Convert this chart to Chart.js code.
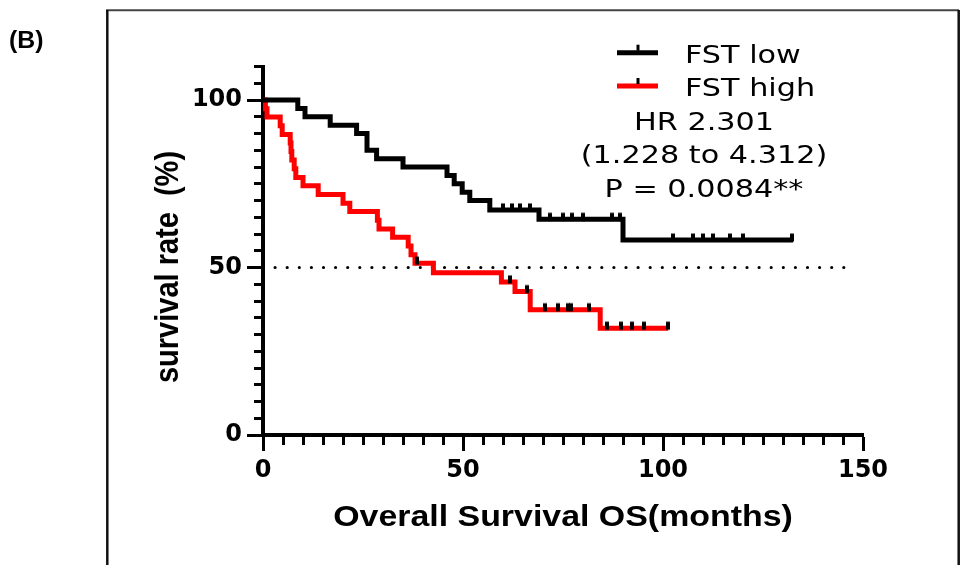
<!DOCTYPE html>
<html>
<head>
<meta charset="utf-8">
<script src="https://cdn.jsdelivr.net/npm/chart.js@4/dist/chart.umd.min.js"></script>
<style>
html,body{margin:0;padding:0;background:#fff;}
#wrap{width:961px;height:565px;position:relative;}
</style>
</head>
<body>
<div id="wrap"><canvas id="c" width="961" height="565"></canvas></div>
<script>
// ---- data (months, survival %) ----
const lowTimes  = [0, 8.7, 10.5, 16.8, 23.4, 26, 28.4, 35, 46, 47.8, 49.8, 51.7, 56.7, 69, 90, 132.5];
const lowSurv   = [100, 97.5, 95, 92.5, 90, 85, 82.5, 80, 77.5, 75, 72.5, 70, 67.2, 64.4, 58.2, 58.2];
const lowCensorTimes = [60.1, 62.2, 64.3, 66.8, 71.8, 75.1, 77.2, 80.1, 87.2, 89.2, 102.6, 107.6, 110.1, 112.6, 116.8, 120.1, 132.2];
const lowCensorSurv  = [67.2, 67.2, 67.2, 67.2, 64.4, 64.4, 64.4, 64.4, 64.4, 64.4, 58.2, 58.2, 58.2, 58.2, 58.2, 58.2, 58.2];

const highTimes = [0, 0.6, 1, 4.3, 4.8, 6.8, 7.0, 7.2, 7.8, 8.2, 10, 13.8, 20, 21.7, 28.6, 29, 32.4, 36.3, 37, 38, 42.6, 59.6, 63, 66.8, 84.3, 101.3];
const highSurv  = [100, 97.4, 94.9, 92.3, 89.7, 87.2, 84.6, 82.1, 79.5, 76.9, 74.4, 71.8, 69.2, 66.7, 64.1, 61.5, 59.0, 56.4, 53.8, 51.3, 48.4, 45.7, 42.8, 37.4, 31.9, 31.9];
const highCensorTimes = [38.4, 61.7, 66, 70.5, 73.8, 76.3, 77.0, 81.6, 85.9, 89.4, 92.3, 95.3, 101.3];
const highCensorSurv  = [51.3, 45.7, 42.8, 37.4, 37.4, 37.4, 37.4, 37.4, 31.9, 31.9, 31.9, 31.9, 31.9];

const medianX = [0, 148];
const medianY = [50, 50];

const xTickLabels = [0, 50, 100, 150];
const yTickLabels = [0, 50, 100];
const seriesNames = ['FST low', 'FST high'];
const statLines = ['HR 2.301', '(1.228 to 4.312)', 'P = 0.0084**'];
const xTitle = 'Overall Survival OS(months)';
const yTitle = 'survival rate  (%)';
const panelLabel = '(B)';

// ---- censor tick point style ----
const tickImg = document.createElement('canvas');
tickImg.width = 4; tickImg.height = 16;
(function(){ const t = tickImg.getContext('2d'); t.fillStyle = '#000'; t.fillRect(0, 1.5, 4, 8); })();

const toPts = (xs, ys) => xs.map((x, i) => ({x: x, y: ys[i]}));

function txt(ctx, s, x, y, font, align, sx) {
  ctx.save();
  ctx.translate(x, y);
  ctx.scale(sx, 1);
  ctx.font = font;
  ctx.textAlign = align;
  ctx.textBaseline = 'alphabetic';
  ctx.fillStyle = '#000';
  ctx.fillText(s, 0, 0);
  ctx.restore();
}

const decor = {
  id: 'decor',
  afterDraw(chart) {
    const ctx = chart.ctx;
    ctx.save();
    // frame
    ctx.strokeStyle = '#444'; ctx.lineWidth = 2;
    ctx.beginPath(); ctx.moveTo(106, 10.3); ctx.lineTo(959, 10.3); ctx.stroke();
    ctx.strokeStyle = '#111'; ctx.lineWidth = 2.5;
    ctx.beginPath(); ctx.moveTo(107.3, 10); ctx.lineTo(107.3, 565); ctx.stroke();
    ctx.beginPath(); ctx.moveTo(958.7, 10); ctx.lineTo(958.7, 565); ctx.stroke();
    // panel label
    txt(ctx, panelLabel, 9, 47.5, 'bold 23px "Liberation Sans"', 'left', 1.08);
    // axis titles
    txt(ctx, xTitle, 563, 526, 'bold 30px "Liberation Sans"', 'center', 1.13);
    ctx.save();
    ctx.translate(178, 267);
    ctx.rotate(-Math.PI / 2);
    ctx.scale(1, 1.13);
    ctx.font = 'bold 29px "Liberation Sans"';
    ctx.textAlign = 'center'; ctx.textBaseline = 'alphabetic'; ctx.fillStyle = '#000';
    ctx.fillText(yTitle, 0, 0);
    ctx.restore();
    // legend
    const colors = ['#000000', '#ff0000'];
    const rowsY = [52.7, 86];
    const baseY = [63, 96];
    for (let i = 0; i < 2; i++) {
      ctx.strokeStyle = colors[i]; ctx.lineWidth = 5; ctx.lineCap = 'butt';
      ctx.beginPath(); ctx.moveTo(617, rowsY[i]); ctx.lineTo(658, rowsY[i]); ctx.stroke();
      ctx.fillStyle = '#000'; ctx.fillRect(636.5, rowsY[i] - 8, 3, 6);
      txt(ctx, seriesNames[i], 685, baseY[i], '25px "DejaVu Sans"', 'left', 1.21);
    }
    const statY = [130, 163, 196.5];
    for (let i = 0; i < statLines.length; i++) {
      txt(ctx, statLines[i], 704, statY[i], '25px "DejaVu Sans"', 'center', 1.21);
    }
    ctx.restore();
  }
};

new Chart(document.getElementById('c'), {
  type: 'line',
  data: {
    datasets: [
      {label: 'FST low censored', data: toPts(lowCensorTimes, lowCensorSurv), showLine: false,
       pointStyle: tickImg, pointRadius: 3, order: 0},
      {label: 'FST high censored', data: toPts(highCensorTimes, highCensorSurv), showLine: false,
       pointStyle: tickImg, pointRadius: 3, order: 0},
      {label: seriesNames[0], data: toPts(lowTimes, lowSurv), stepped: 'before',
       borderColor: '#000000', borderWidth: 5, pointRadius: 0, fill: false, order: 1,
       borderJoinStyle: 'miter'},
      {label: seriesNames[1], data: toPts(highTimes, highSurv), stepped: 'before',
       borderColor: '#ff0000', borderWidth: 5, pointRadius: 0, fill: false, order: 2,
       borderJoinStyle: 'miter'},
      {label: 'median', data: toPts(medianX, medianY), borderColor: '#000000', borderWidth: 3.2,
       borderDash: [0, 12.1], borderCapStyle: 'round', pointRadius: 0, fill: false, order: 3}
    ]
  },
  options: {
    responsive: false,
    animation: false,
    devicePixelRatio: 1,
    layout: {padding: {top: 66.5, right: 98, left: 0, bottom: 0}},
    plugins: {legend: {display: false}, tooltip: {enabled: false}},
    scales: {
      x: {
        type: 'linear', min: 0, max: 150,
        afterFit: s => { s.height = 130; },
        border: {display: true, width: 4, color: '#000'},
        grid: {
          drawOnChartArea: false, drawTicks: true, tickLength: 16, tickWidth: 3, tickColor: '#000',
          tickBorderDash: c => (c.tick && c.tick.value % 50 === 0) ? [] : [8, 40]
        },
        ticks: {
          stepSize: 5, autoSkip: false, maxRotation: 0, minRotation: 0, padding: 5,
          color: '#000', font: {family: 'DejaVu Sans', weight: 'bold', size: 24},
          callback: v => xTickLabels.includes(v) ? String(v) : ''
        }
      },
      y: {
        type: 'linear', min: 0, max: 110,
        afterFit: s => { s.width = 263; },
        border: {display: true, width: 4, color: '#000'},
        grid: {
          drawOnChartArea: false, drawTicks: true, tickLength: 16, tickWidth: 3, tickColor: '#000',
          tickBorderDash: c => (c.tick && c.tick.value % 50 === 0) ? [] : [0, 7, 30, 10]
        },
        ticks: {
          stepSize: 5, autoSkip: false, padding: 5,
          color: '#000', font: {family: 'DejaVu Sans', weight: 'bold', size: 24},
          callback: v => yTickLabels.includes(v) ? String(v) : ''
        }
      }
    }
  },
  plugins: [decor]
});
</script>
</body>
</html>
